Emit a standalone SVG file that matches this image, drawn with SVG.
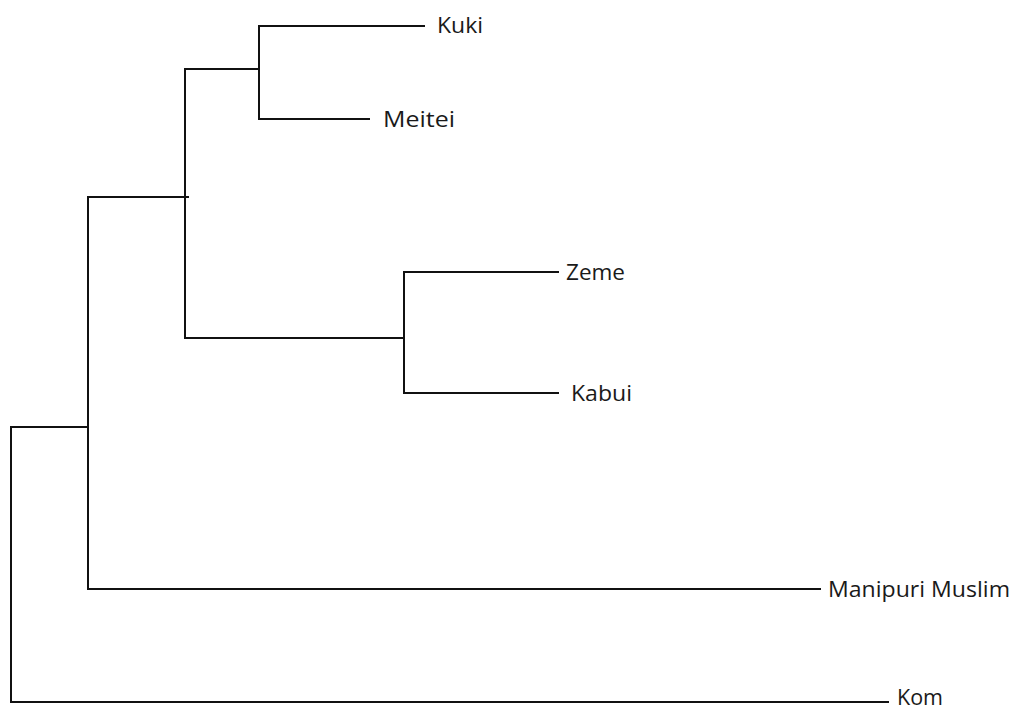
<svg xmlns="http://www.w3.org/2000/svg" width="1016" height="711" viewBox="0 0 1016 711">
<style>
.e{stroke:#111;stroke-width:2;fill:none;stroke-linecap:square}
.t{font-family:"Open Sans","Liberation Sans",sans-serif;font-size:22px;fill:#1a1a1a}
</style>
<rect width="1016" height="711" fill="#fff"/>
<g id="connectors">
<path class="e" d="M424,26 H259 V119 H369"/>
<path class="e" d="M259,69 H185 V338 H404"/>
<path class="e" d="M558,272 H404 V393 H558"/>
<path class="e" d="M188,197 H88 V589 H820"/>
<path class="e" d="M88,427 H11 V702 H888"/>
</g>
<g id="kuki"><text class="t" x="437" y="33" textLength="46" lengthAdjust="spacingAndGlyphs">Kuki</text></g>
<g id="meitei"><text class="t" x="383" y="127" textLength="72" lengthAdjust="spacingAndGlyphs">Meitei</text></g>
<g id="zeme"><text class="t" x="566" y="280" textLength="59" lengthAdjust="spacingAndGlyphs">Zeme</text></g>
<g id="kabui"><text class="t" x="571" y="401" textLength="61" lengthAdjust="spacingAndGlyphs">Kabui</text></g>
<g id="manipuri-muslim"><text class="t" x="828" y="597" textLength="182" lengthAdjust="spacingAndGlyphs">Manipuri Muslim</text></g>
<g id="kom"><text class="t" x="897" y="705" textLength="46" lengthAdjust="spacingAndGlyphs">Kom</text></g>
</svg>
